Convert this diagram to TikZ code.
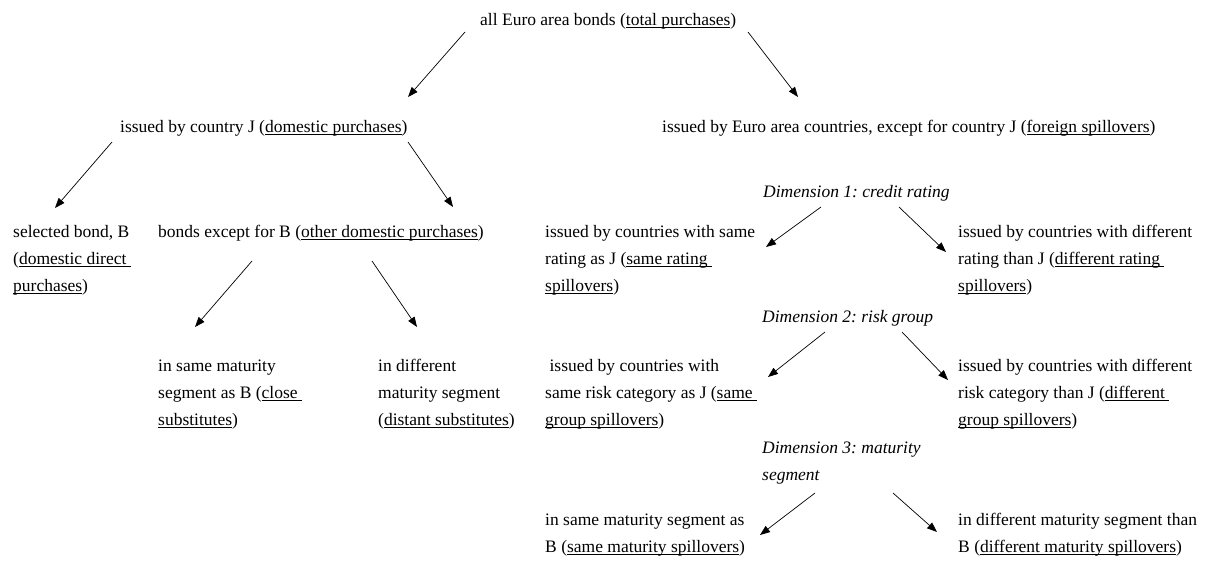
\documentclass[tikz,border=0pt]{standalone}
\usepackage{fontspec}
\setmainfont{Liberation Serif}
\usetikzlibrary{arrows.meta}
\frenchspacing
\newcommand\undl[1]{\setbox0\hbox{#1}\rlap{\rule[-2.5pt]{\wd0}{0.9pt}}\box0}
\newcommand\blk[1]{\begin{tabular}[t]{@{}l@{}}#1\end{tabular}}
\begin{document}
\begin{tikzpicture}[x=1pt,y=-1pt,
  txt/.style={anchor=base west, inner sep=0pt, font=\fontsize{17.5}{27}\selectfont\frenchspacing},
  dim/.style={txt, font=\fontsize{17.5}{27}\selectfont\frenchspacing\itshape},
  arr/.style={-{Triangle[length=10pt,width=7.5pt]}, line width=0.7pt}]
\useasboundingbox (0,0) rectangle (1206,560);
% texts
\node[txt] (top) at (480,25) {all Euro area bonds (\undl{total purchases})};
\node[txt] (dom) at (120,132) {issued by country J (\undl{domestic purchases})};
\node[txt] (for) at (662,132) {issued by Euro area countries, except for country J (\undl{foreign spillovers})};
\node[txt] (sel) at (13,237) {\blk{selected bond, B\\(\undl{domestic direct }\\\undl{purchases})}};
\node[txt] (oth) at (158,237) {bonds except for B (\undl{other domestic purchases})};
\node[txt] (close) at (158,371) {\blk{in same maturity\\segment as B (\undl{close }\\\undl{substitutes})}};
\node[txt] (dist) at (378,371) {\blk{in different\\maturity segment\\(\undl{distant substitutes})}};
\node[dim] (d1) at (763,197) {Dimension 1: credit rating};
\node[txt] (sr) at (545,237) {\blk{issued by countries with same\\rating as J (\undl{same rating }\\\undl{spillovers})}};
\node[txt] (dr) at (958,237) {\blk{issued by countries with different\\rating than J (\undl{different rating }\\\undl{spillovers})}};
\node[dim] (d2) at (762,322) {Dimension 2: risk group};
\node[txt] (sg) at (545,371) {\blk{\ issued by countries with\\same risk category as J (\undl{same }\\\undl{group spillovers})}};
\node[txt] (dg) at (958,371) {\blk{issued by countries with different\\risk category than J (\undl{different }\\\undl{group spillovers})}};
\node[dim] (d3) at (762,453) {\blk{Dimension 3: maturity\\segment}};
\node[txt] (sm) at (545,525) {\blk{in same maturity segment as\\B (\undl{same maturity spillovers})}};
\node[txt] (dm) at (958,525) {\blk{in different maturity segment than\\B (\undl{different maturity spillovers})}};
% arrow end points
\coordinate (a1s) at (465,32);  \coordinate (a1e) at (408,97);
\coordinate (a2s) at (748,32);  \coordinate (a2e) at (798,97);
\coordinate (a3s) at (112,142); \coordinate (a3e) at (55,208);
\coordinate (a4s) at (408,142); \coordinate (a4e) at (453,207);
\coordinate (a5s) at (252,261); \coordinate (a5e) at (195,327);
\coordinate (a6s) at (372,261); \coordinate (a6e) at (417,327);
\coordinate (a7s) at (821,207); \coordinate (a7e) at (766,247);
\coordinate (a8s) at (899,207); \coordinate (a8e) at (946,252);
\coordinate (a9s) at (825,332); \coordinate (a9e) at (768,377);
\coordinate (a10s) at (902,332); \coordinate (a10e) at (948,380);
\coordinate (a11s) at (815,493); \coordinate (a11e) at (760,535);
\coordinate (a12s) at (893,493); \coordinate (a12e) at (937,532);
\foreach \i in {1,...,12} \draw[arr] (a\i s) -- (a\i e);
\end{tikzpicture}
\end{document}
